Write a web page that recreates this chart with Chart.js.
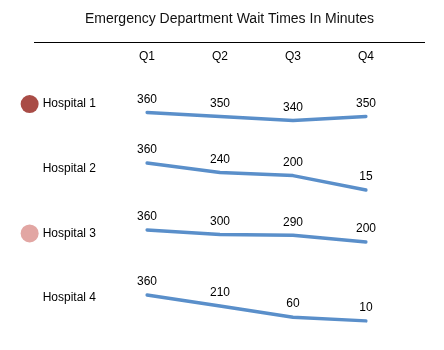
<!DOCTYPE html>
<html>
<head>
<meta charset="utf-8">
<script src="https://cdn.jsdelivr.net/npm/chart.js@4/dist/chart.umd.min.js"></script>
<style>
  html, body { margin: 0; padding: 0; background: #fff; }
  #wrap { width: 444px; height: 350px; }
</style>
</head>
<body>
<div id="wrap"><canvas id="waitChart"></canvas></div>
<script>
const quarters = ['Q1', 'Q2', 'Q3', 'Q4'];
const hospitals = ['Hospital 1', 'Hospital 2', 'Hospital 3', 'Hospital 4'];
const hospital1 = [360, 350, 340, 350];
const hospital2 = [360, 240, 200, 15];
const hospital3 = [360, 300, 290, 200];
const hospital4 = [360, 210, 60, 10];
const seriesList = [hospital1, hospital2, hospital3, hospital4];
const markerColors = ['#a94c46', null, '#e2a6a3', null];

const FONT = "'Liberation Sans', Arial, Helvetica, sans-serif";
const LINE_BLUE = '#5a8fca';

// line under the title
const titleRule = {
  id: 'titleRule',
  afterDraw(chart) {
    const t = chart.titleBlock;
    const ctx = chart.ctx;
    const y = Math.round(t.bottom) + 0.5;
    ctx.save();
    ctx.strokeStyle = '#000';
    ctx.lineWidth = 1;
    ctx.beginPath();
    ctx.moveTo(t.left, y);
    ctx.lineTo(t.right, y);
    ctx.stroke();
    ctx.restore();
  }
};

// numbers above each point
const valueLabels = {
  id: 'valueLabels',
  afterDatasetsDraw(chart) {
    const ctx = chart.ctx;
    ctx.save();
    ctx.font = '12px ' + FONT;
    ctx.fillStyle = '#000';
    ctx.textAlign = 'center';
    ctx.textBaseline = 'middle';
    chart.data.datasets.forEach((ds, i) => {
      chart.getDatasetMeta(i).data.forEach((pt, j) => {
        ctx.fillText(String(ds.data[j]), pt.x, pt.y - 13);
      });
    });
    ctx.restore();
  }
};

// coloured dots next to some hospital names
const nameMarkers = {
  id: 'nameMarkers',
  afterDraw(chart) {
    const scale = chart.scales.names;
    const ctx = chart.ctx;
    ctx.save();
    ctx.font = '12px ' + FONT;
    hospitals.forEach((name, i) => {
      if (!markerColors[i]) return;
      const y = scale.getPixelForTick(i);
      const textRight = scale.right - scale.options.ticks.padding;
      const cx = textRight - ctx.measureText(name).width - 13;
      ctx.fillStyle = markerColors[i];
      ctx.beginPath();
      ctx.arc(cx, y, 9, 0, Math.PI * 2);
      ctx.fill();
    });
    ctx.restore();
  }
};

const rowAxis = (min, max) => ({
  type: 'linear',
  position: 'right',
  stack: 'rows',
  stackWeight: 1,
  min: min,
  max: max,
  grid: { display: false, drawTicks: false },
  border: { display: false },
  ticks: { display: false },
  afterFit(scale) { scale.width = 59; }
});

new Chart(document.getElementById('waitChart'), {
  type: 'line',
  data: {
    labels: quarters,
    datasets: seriesList.map((s, i) => ({
      label: hospitals[i],
      data: s,
      yAxisID: 'h' + (i + 1),
      borderColor: LINE_BLUE,
      borderWidth: 3.5,
      borderCapStyle: 'round',
      borderJoinStyle: 'round',
      pointRadius: 0,
      tension: 0,
      fill: false
    }))
  },
  options: {
    responsive: true,
    maintainAspectRatio: false,
    animation: false,
    events: [],
    layout: { padding: { left: 34, right: 19, top: 0, bottom: 19.5 } },
    plugins: {
      legend: { display: false },
      tooltip: { enabled: false },
      title: {
        display: true,
        text: 'Emergency Department Wait Times In Minutes',
        color: '#111',
        font: { family: FONT, size: 14, weight: 'normal' },
        padding: { top: 10.6, bottom: 15 }
      }
    },
    scales: {
      x: {
        type: 'category',
        position: 'top',
        offset: false,
        grid: { display: false, drawTicks: false },
        border: { display: false },
        ticks: { color: '#000', font: { family: FONT, size: 12 }, padding: 7.5, maxRotation: 0 },
        afterFit(scale) { scale.height = 29.3; }
      },
      names: {
        type: 'category',
        position: 'left',
        labels: hospitals,
        offset: true,
        grid: { display: false, drawTicks: false },
        border: { display: false },
        ticks: { color: '#000', font: { family: FONT, size: 12 }, padding: 51 },
        afterFit(scale) {
          // wide label gap only; don't let it eat the vertical space
          scale.width = 113;
          scale.paddingTop = 0;
          scale.paddingBottom = 0;
        }
      },
      h1: rowAxis(300, 462),
      h2: rowAxis(-126, 701),
      h3: rowAxis(-118, 745),
      h4: rowAxis(-120, 754)
    }
  },
  plugins: [titleRule, valueLabels, nameMarkers]
});
</script>
</body>
</html>
